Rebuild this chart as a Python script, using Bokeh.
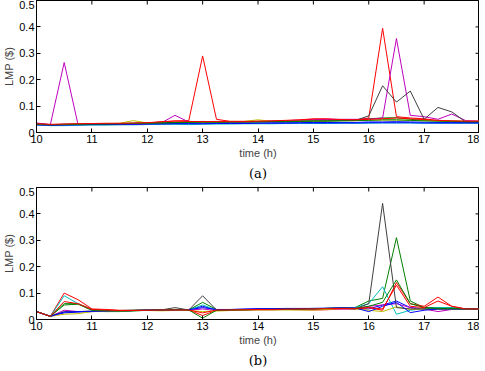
from bokeh.plotting import figure
from bokeh.models import Range1d, FixedTicker, Title
from bokeh.layouts import column
from bokeh.embed import file_html
from bokeh.resources import INLINE

time_h = [10.0, 10.25, 10.5, 10.75, 11.0, 11.25, 11.5, 11.75, 12.0, 12.25, 12.5, 12.75,
          13.0, 13.25, 13.5, 13.75, 14.0, 14.25, 14.5, 14.75, 15.0, 15.25, 15.5, 15.75,
          16.0, 16.25, 16.5, 16.75, 17.0, 17.25, 17.5, 17.75, 18.0]

x_ticks = [10, 11, 12, 13, 14, 15, 16, 17, 18]
y_ticks = [0, 0.1, 0.2, 0.3, 0.4, 0.5]

# MATLAB default colour order: b g r c m y k
colors = ["#0000FF", "#008000", "#FF0000", "#00BFBF", "#BF00BF", "#BFBF00", "#404040",
          "#0000FF", "#008000", "#FF0000"]

# ---- panel (a) ----
a_blue1 = [0.030, 0.028, 0.029, 0.030, 0.031, 0.031, 0.032, 0.032, 0.033, 0.034, 0.034, 0.035,
           0.035, 0.035, 0.036, 0.036, 0.036, 0.037, 0.037, 0.037, 0.038, 0.038, 0.038, 0.038,
           0.040, 0.040, 0.041, 0.040, 0.039, 0.038, 0.038, 0.038, 0.038]
a_green1 = [0.032, 0.030, 0.031, 0.032, 0.033, 0.033, 0.034, 0.035, 0.036, 0.037, 0.038, 0.039,
            0.040, 0.040, 0.040, 0.041, 0.041, 0.042, 0.042, 0.043, 0.044, 0.045, 0.046, 0.048,
            0.052, 0.055, 0.056, 0.050, 0.046, 0.044, 0.043, 0.042, 0.042]
a_red1 = [0.032, 0.030, 0.031, 0.032, 0.033, 0.034, 0.034, 0.034, 0.036, 0.040, 0.044, 0.045,
          0.290, 0.050, 0.042, 0.042, 0.042, 0.043, 0.045, 0.046, 0.050, 0.050, 0.047, 0.047,
          0.055, 0.395, 0.060, 0.055, 0.052, 0.045, 0.043, 0.042, 0.042]
a_cyan1 = [0.028, 0.026, 0.026, 0.027, 0.028, 0.028, 0.029, 0.029, 0.030, 0.031, 0.031, 0.030,
           0.031, 0.032, 0.032, 0.033, 0.033, 0.033, 0.034, 0.034, 0.034, 0.034, 0.035, 0.035,
           0.035, 0.036, 0.036, 0.036, 0.035, 0.035, 0.035, 0.035, 0.035]
a_mag1 = [0.036, 0.030, 0.265, 0.030, 0.030, 0.030, 0.030, 0.031, 0.033, 0.036, 0.065, 0.040,
          0.040, 0.040, 0.040, 0.040, 0.042, 0.043, 0.045, 0.047, 0.048, 0.050, 0.050, 0.050,
          0.050, 0.055, 0.356, 0.065, 0.060, 0.050, 0.070, 0.045, 0.043]
a_yellow1 = [0.031, 0.029, 0.030, 0.031, 0.032, 0.033, 0.035, 0.045, 0.036, 0.037, 0.038, 0.039,
             0.040, 0.041, 0.042, 0.042, 0.048, 0.042, 0.043, 0.043, 0.044, 0.044, 0.045, 0.045,
             0.046, 0.047, 0.047, 0.046, 0.045, 0.044, 0.043, 0.042, 0.042]
a_gray1 = [0.032, 0.030, 0.031, 0.032, 0.033, 0.033, 0.034, 0.035, 0.036, 0.037, 0.038, 0.040,
           0.042, 0.040, 0.040, 0.040, 0.041, 0.042, 0.042, 0.043, 0.044, 0.044, 0.045, 0.045,
           0.063, 0.177, 0.115, 0.157, 0.050, 0.095, 0.078, 0.040, 0.040]
a_blue2 = [0.029, 0.027, 0.028, 0.029, 0.030, 0.030, 0.031, 0.031, 0.032, 0.032, 0.033, 0.033,
           0.033, 0.034, 0.034, 0.034, 0.035, 0.035, 0.035, 0.036, 0.036, 0.036, 0.036, 0.036,
           0.037, 0.037, 0.037, 0.037, 0.036, 0.036, 0.036, 0.036, 0.036]
a_green2 = [0.031, 0.029, 0.030, 0.031, 0.032, 0.032, 0.033, 0.034, 0.035, 0.036, 0.037, 0.038,
            0.039, 0.039, 0.040, 0.040, 0.040, 0.041, 0.041, 0.042, 0.043, 0.043, 0.044, 0.045,
            0.046, 0.048, 0.048, 0.046, 0.044, 0.043, 0.042, 0.041, 0.041]
a_red2 = [0.033, 0.031, 0.032, 0.033, 0.034, 0.035, 0.035, 0.036, 0.037, 0.041, 0.043, 0.042,
          0.041, 0.042, 0.042, 0.042, 0.043, 0.044, 0.046, 0.048, 0.052, 0.052, 0.049, 0.048,
          0.050, 0.052, 0.055, 0.052, 0.049, 0.046, 0.044, 0.043, 0.043]

# ---- panel (b) ----
b_blue1 = [0.030, 0.012, 0.025, 0.028, 0.030, 0.032, 0.033, 0.034, 0.035, 0.036, 0.037, 0.038,
           0.050, 0.036, 0.037, 0.038, 0.040, 0.040, 0.040, 0.041, 0.042, 0.042, 0.042, 0.042,
           0.040, 0.055, 0.070, 0.045, 0.040, 0.042, 0.042, 0.040, 0.040]
b_green1 = [0.030, 0.012, 0.060, 0.060, 0.038, 0.030, 0.030, 0.032, 0.035, 0.036, 0.038, 0.036,
            0.065, 0.038, 0.036, 0.037, 0.038, 0.040, 0.040, 0.040, 0.040, 0.042, 0.045, 0.045,
            0.070, 0.080, 0.310, 0.070, 0.045, 0.045, 0.045, 0.040, 0.040]
b_red1 = [0.030, 0.012, 0.100, 0.075, 0.040, 0.038, 0.035, 0.035, 0.036, 0.036, 0.038, 0.036,
          0.015, 0.035, 0.036, 0.036, 0.037, 0.037, 0.038, 0.037, 0.036, 0.037, 0.040, 0.040,
          0.045, 0.035, 0.140, 0.060, 0.050, 0.085, 0.050, 0.040, 0.040]
b_cyan1 = [0.030, 0.012, 0.090, 0.060, 0.035, 0.033, 0.034, 0.035, 0.036, 0.036, 0.036, 0.036,
           0.055, 0.036, 0.037, 0.038, 0.038, 0.040, 0.040, 0.040, 0.041, 0.042, 0.043, 0.045,
           0.060, 0.124, 0.020, 0.035, 0.042, 0.045, 0.045, 0.040, 0.040]
b_mag1 = [0.030, 0.012, 0.035, 0.030, 0.030, 0.032, 0.033, 0.034, 0.035, 0.035, 0.035, 0.035,
          0.040, 0.034, 0.035, 0.036, 0.037, 0.037, 0.038, 0.038, 0.038, 0.040, 0.040, 0.040,
          0.050, 0.055, 0.060, 0.045, 0.040, 0.030, 0.038, 0.038, 0.040]
b_yellow1 = [0.030, 0.012, 0.020, 0.022, 0.030, 0.030, 0.031, 0.035, 0.034, 0.033, 0.034, 0.034,
             0.030, 0.032, 0.034, 0.035, 0.036, 0.036, 0.036, 0.036, 0.036, 0.038, 0.042, 0.040,
             0.035, 0.030, 0.048, 0.038, 0.040, 0.038, 0.038, 0.038, 0.040]
b_gray1 = [0.030, 0.012, 0.030, 0.030, 0.032, 0.033, 0.034, 0.035, 0.036, 0.036, 0.045, 0.036,
           0.090, 0.036, 0.036, 0.037, 0.038, 0.038, 0.040, 0.040, 0.041, 0.042, 0.043, 0.040,
           0.060, 0.440, 0.045, 0.040, 0.040, 0.040, 0.040, 0.040, 0.040]
b_blue2 = [0.030, 0.012, 0.028, 0.030, 0.031, 0.032, 0.033, 0.034, 0.035, 0.036, 0.036, 0.037,
           0.045, 0.038, 0.038, 0.040, 0.041, 0.041, 0.042, 0.042, 0.042, 0.043, 0.044, 0.044,
           0.030, 0.050, 0.065, 0.026, 0.035, 0.040, 0.040, 0.040, 0.040]
b_green2 = [0.030, 0.012, 0.055, 0.058, 0.035, 0.033, 0.032, 0.034, 0.035, 0.036, 0.037, 0.036,
            0.005, 0.035, 0.036, 0.037, 0.038, 0.038, 0.039, 0.039, 0.040, 0.042, 0.042, 0.042,
            0.050, 0.065, 0.150, 0.060, 0.045, 0.042, 0.042, 0.040, 0.040]
b_red2 = [0.030, 0.012, 0.068, 0.060, 0.038, 0.036, 0.034, 0.034, 0.035, 0.036, 0.036, 0.036,
          0.025, 0.036, 0.036, 0.037, 0.038, 0.038, 0.039, 0.040, 0.040, 0.041, 0.042, 0.042,
          0.045, 0.040, 0.130, 0.050, 0.045, 0.070, 0.050, 0.040, 0.040]

series_a = [a_blue1, a_green1, a_red1, a_cyan1, a_mag1, a_yellow1, a_gray1, a_blue2, a_green2, a_red2]
series_b = [b_blue1, b_green1, b_red1, b_cyan1, b_mag1, b_yellow1, b_gray1, b_blue2, b_green2, b_red2]

SANS = "Liberation Sans"
SERIF = "DejaVu Serif"


def style_axis(ax):
    ax.axis_line_color = "black"
    ax.major_tick_in = 4
    ax.major_tick_out = 0
    ax.minor_tick_line_color = None
    ax.major_tick_line_color = "black"
    ax.major_label_text_font = SANS
    ax.major_label_text_font_size = "11px"
    ax.major_label_text_color = "black"
    ax.major_label_standoff = 2
    ax.axis_label_text_font = SANS
    ax.axis_label_text_font_size = "11px"
    ax.axis_label_text_font_style = "normal"
    ax.axis_label_standoff = 1


def make_fig(series, caption, height, bottom_border):
    p = figure(width=479, height=height, output_backend="svg", toolbar_location=None,
               x_range=Range1d(10, 18), y_range=Range1d(0, 0.5),
               min_border_left=27, min_border_right=0, min_border_top=0,
               min_border_bottom=bottom_border)
    p.xgrid.visible = False
    p.ygrid.visible = False
    p.outline_line_color = "black"
    p.outline_line_alpha = 1.0
    p.background_fill_color = "white"
    p.border_fill_color = "white"

    for vals, col in zip(series, colors):
        p.line(time_h, vals, line_color=col, line_width=1)

    # inward ticks on the top and right edges of the box (half of a dash is clipped)
    p.scatter(x_ticks, [0.5] * len(x_ticks), marker="dash", angle=1.5707963,
              size=8, line_color="black", line_width=1)
    p.scatter([18] * len(y_ticks), y_ticks, marker="dash", size=8,
              line_color="black", line_width=1)

    p.xaxis.ticker = FixedTicker(ticks=x_ticks)
    p.yaxis.ticker = FixedTicker(ticks=y_ticks)
    p.yaxis.major_label_overrides = {0: "0"}
    p.xaxis.axis_label = "time (h)"
    p.yaxis.axis_label = "LMP ($)"
    style_axis(p.xaxis[0])
    style_axis(p.yaxis[0])

    p.add_layout(Title(text=caption, align="center", text_font=SERIF,
                       text_font_size="13px", text_font_style="normal",
                       text_color="black", standoff=4), "below")
    return p


pa = make_fig(series_a, "(a)", 187, 55)
pb = make_fig(series_b, "(b)", 183, 51)

layout = column(pa, pb, spacing=0)
open("out.html", "w").write(file_html(layout, INLINE))
